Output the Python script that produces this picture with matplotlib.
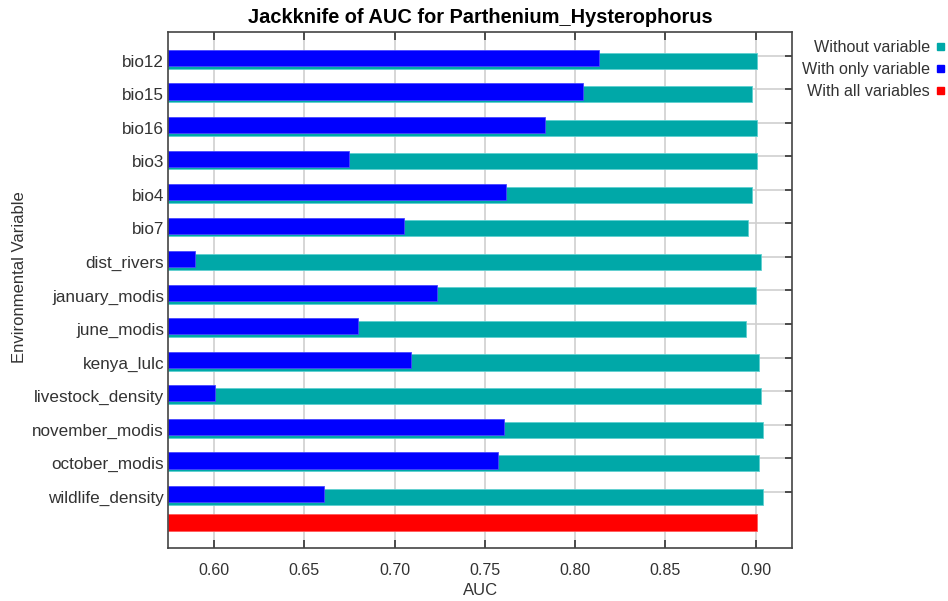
import numpy as np
import matplotlib.pyplot as plt
from matplotlib.patches import Patch

plt.rcParams['font.family'] = ['Liberation Sans', 'DejaVu Sans']

# Jackknife results (AUC) per environmental variable
variables = ['bio12', 'bio15', 'bio16', 'bio3', 'bio4', 'bio7', 'dist_rivers',
             'january_modis', 'june_modis', 'kenya_lulc', 'livestock_density',
             'november_modis', 'october_modis', 'wildlife_density']
auc_without = [0.901, 0.898, 0.901, 0.901, 0.898, 0.896, 0.903,
               0.900, 0.8945, 0.902, 0.9027, 0.904, 0.902, 0.904]
auc_only = [0.813, 0.8045, 0.7835, 0.6748, 0.762, 0.705, 0.5896,
            0.7233, 0.680, 0.709, 0.6004, 0.7606, 0.7573, 0.661]
auc_all = 0.901

teal = '#00a8a8'
blue = '#0000ff'
red = '#ff0000'
x_lo, x_hi = 0.5747, 0.9203
bar_h = 0.48

fig = plt.figure(figsize=(9.48, 6.01), dpi=100)
ax = fig.add_axes([0.1775, 0.0887, 0.6583, 0.8576])

y = np.arange(len(variables))
ax.barh(y, np.array(auc_without) - x_lo, left=x_lo, height=bar_h,
        color=teal, edgecolor='#5fd0d0', linewidth=0.6)
ax.barh(y - 0.08, np.array(auc_only) - x_lo, left=x_lo, height=bar_h,
        color=blue, edgecolor='#4848ff', linewidth=0.6)
ax.barh([len(variables) - 0.23], [auc_all - x_lo], left=x_lo, height=bar_h,
        color=red, edgecolor='#ff5a5a', linewidth=0.6)

ax.set_xlim(x_lo, x_hi)
ax.set_ylim(14.52, -0.847)

xt = np.arange(0.60, 0.9001, 0.05)
ax.set_xticks(xt)
ax.set_xticklabels([f'{t:.2f}' for t in xt])
ax.set_yticks(y)
ax.set_yticklabels(variables)
ax.set_yticks(y - 0.149, minor=True)

ax.tick_params(axis='y', which='major', length=0, pad=3, labelsize=12.3, labelcolor='#333333')
ax.tick_params(axis='y', which='minor', direction='in', length=5, width=1.2,
               left=True, right=True, color='#333333')
ax.tick_params(axis='x', which='major', direction='in', length=6, width=1.2,
               top=True, bottom=True, pad=11, labelsize=11.5, labelcolor='#333333',
               color='#333333')
ax.grid(axis='x', which='major', color='#d0d0d0', linewidth=1.2)
ax.grid(axis='y', which='minor', color='#d0d0d0', linewidth=1.2)
ax.set_axisbelow(True)

for s in ax.spines.values():
    s.set_color('#444444')
    s.set_linewidth(1.2)

ax.set_title('Jackknife of AUC for Parthenium_Hysterophorus',
             fontsize=14.4, fontweight='bold', pad=6.5)
ax.set_xlabel('AUC', fontsize=12, color='#333333')
ax.xaxis.set_label_coords(0.5, -0.068)
ax.xaxis.label.set_va('top')
ax.set_ylabel('Environmental Variable', fontsize=12, color='#333333')
ax.yaxis.set_label_coords(-0.226, 0.525)

handles = [Patch(color=teal), Patch(color=blue), Patch(color=red)]
labels = ['Without variable', 'With only variable', 'With all variables']
fig.legend(handles, labels, loc='upper right', bbox_to_anchor=(0.996, 0.933),
           frameon=False, markerfirst=False, fontsize=11.6, labelcolor='#333333',
           handlelength=0.42, handleheight=0.35, handletextpad=0.45,
           labelspacing=0.44, borderpad=0, borderaxespad=0)

fig.savefig('out.png', dpi=100)
